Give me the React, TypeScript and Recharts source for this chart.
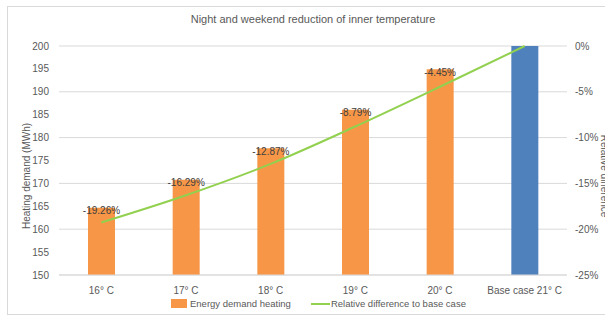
import { ComposedChart, Bar, Line, XAxis, YAxis, CartesianGrid, Cell, LabelList } from "recharts";

const categories = ["16° C", "17° C", "18° C", "19° C", "20° C", "Base case 21° C"];
const demand = [164.7, 170.8, 177.7, 186.1, 194.9, 204];
const relDiff = [-19.26, -16.29, -12.87, -8.79, -4.45, 0];
const leftTicks = [150, 155, 160, 165, 170, 175, 180, 185, 190, 195, 200];
const rightTicks = [-25, -20, -15, -10, -5, 0];

const data = categories.map((name, i) => ({ name, demand: demand[i], rel: relDiff[i] }));

const FONT = "'Liberation Sans', Arial, sans-serif";
const TXT = "#595959";

function PctLabel(props: any) {
  const { x, y, width, index } = props;
  const v = relDiff[index];
  if (!v) return null;
  return (
    <text x={x + width / 2} y={y + 4} textAnchor="middle" dominantBaseline="middle" fontSize={10} fill="#404040" fontFamily={FONT}>
      {v.toFixed(2)}%
    </text>
  );
}

export default function App() {
  return (
    <div style={{ position: "absolute", left: 0, top: 0, width: 605, height: 316, background: "#fff", fontFamily: FONT, overflow: "hidden" }}>
      <div style={{ position: "absolute", left: 7, top: 6, width: 620, height: 307, border: "1px solid #d9d9d9" }} />
      <div style={{ position: "absolute", left: 0, width: 626, top: 13, textAlign: "center", fontSize: 11, color: TXT }}>
        Night and weekend reduction of inner temperature
      </div>
      <ComposedChart width={605} height={316} data={data} margin={{ top: 46, right: 8, bottom: 11, left: 19 }} style={{ position: "absolute", left: 0, top: 0 }}>
        <CartesianGrid vertical={false} stroke="#d9d9d9" yAxisId="left" />
        <XAxis dataKey="name" height={30} tickLine={false} axisLine={{ stroke: "#d9d9d9" }} tick={{ fontSize: 10, fill: TXT, fontFamily: FONT }} tickMargin={6} interval={0} />
        <YAxis yAxisId="left" width={40} domain={[150, 200]} ticks={leftTicks} allowDataOverflow tickLine={false} axisLine={false} tickSize={0} tickMargin={10} tick={{ fontSize: 10, fill: TXT, fontFamily: FONT }} />
        <YAxis yAxisId="right" orientation="right" width={30} domain={[-25, 0]} ticks={rightTicks} tickLine={false} axisLine={false} tickSize={0} tickMargin={8} tick={{ fontSize: 10, fill: TXT, fontFamily: FONT }} tickFormatter={(v) => `${v}%`} />
        <Bar yAxisId="left" dataKey="demand" barSize={27} isAnimationActive={false}>
          {data.map((d, i) => (
            <Cell key={d.name} fill={i === data.length - 1 ? "#4F81BD" : "#F79646"} />
          ))}
          <LabelList dataKey="rel" content={PctLabel} />
        </Bar>
        <Line yAxisId="right" dataKey="rel" type="monotone" stroke="#92D050" strokeWidth={2} dot={false} isAnimationActive={false} />
      </ComposedChart>
      <div style={{ position: "absolute", left: 26, top: 176, transform: "translate(-50%, -50%) rotate(-90deg)", whiteSpace: "nowrap", fontSize: 10, color: TXT }}>
        Heating demand (MWh)
      </div>
      <div style={{ position: "absolute", left: 604, top: 176, transform: "translate(-50%, -50%) rotate(90deg)", whiteSpace: "nowrap", fontSize: 10, color: TXT }}>
        Relative difference
      </div>
      <div style={{ position: "absolute", top: 298, left: 171, display: "flex", alignItems: "center", fontSize: 9.5, color: TXT, whiteSpace: "nowrap" }}>
        <span style={{ display: "inline-block", width: 16, height: 9, background: "#F79646", marginRight: 3 }} />
        <span>Energy demand heating</span>
        <span style={{ display: "inline-block", width: 19, height: 2, background: "#92D050", marginLeft: 20, marginRight: 1 }} />
        <span>Relative difference to base case</span>
      </div>
    </div>
  );
}
